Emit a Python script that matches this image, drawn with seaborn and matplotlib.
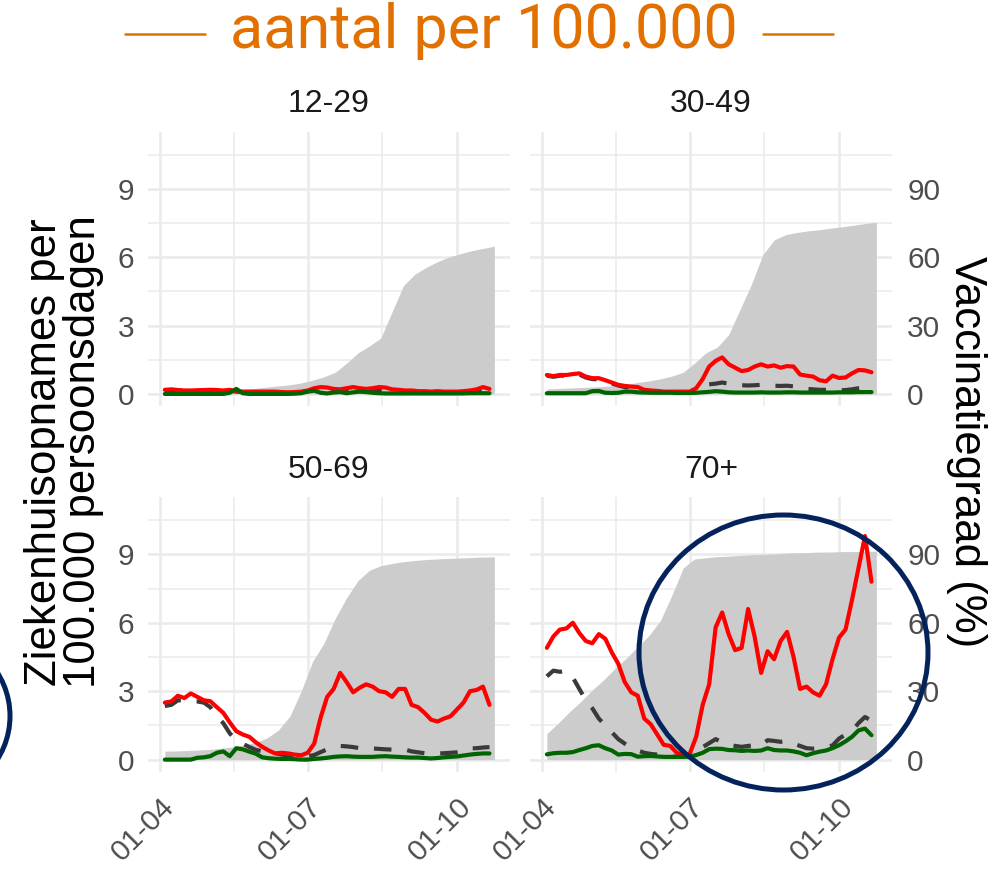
import numpy as np
import pandas as pd
import matplotlib
matplotlib.use("Agg")
import matplotlib.pyplot as plt
import matplotlib.dates as mdates
from matplotlib.patches import Ellipse
from matplotlib.lines import Line2D
import seaborn as sns

# leeftijdsgroepen en datums
groups = ["12-29", "30-49", "50-69", "70+"]
line_dates = pd.date_range("2021-04-04", periods=51, freq="4D")
vacc_dates = pd.date_range("2021-04-04", periods=30, freq="7D")

# ziekenhuisopnames per 100.000 persoonsdagen (rood = ongevaccineerd, grijs gestippeld = totaal, groen = gevaccineerd)
red_1229 = [0.18, 0.2, 0.17, 0.15, 0.15, 0.16, 0.17, 0.18, 0.17, 0.15,
            0.18, 0.12, 0.1, 0.1, 0.1, 0.1, 0.1, 0.1, 0.08, 0.07,
            0.08, 0.1, 0.15, 0.25, 0.3, 0.28, 0.22, 0.2, 0.25, 0.3,
            0.25, 0.22, 0.25, 0.3, 0.28, 0.2, 0.18, 0.15, 0.15, 0.12,
            0.12, 0.1, 0.12, 0.1, 0.1, 0.1, 0.12, 0.15, 0.2, 0.3, 0.22]
tot_1229 = [0.15, 0.17, 0.15, 0.13, 0.13, 0.14, 0.15, 0.15, 0.14, 0.13,
            0.15, 0.1, 0.08, 0.08, 0.08, 0.08, 0.08, 0.08, 0.07, 0.06,
            0.07, 0.08, 0.12, 0.18, 0.2, 0.18, 0.15, 0.14, 0.16, 0.18,
            0.15, 0.14, 0.15, 0.17, 0.16, 0.12, 0.11, 0.1, 0.1, 0.08,
            0.08, 0.07, 0.08, 0.07, 0.07, 0.07, 0.08, 0.1, 0.13, 0.18, 0.14]
green_1229 = [0, 0, 0, 0, 0, 0, 0, 0, 0, 0,
              0.05, 0.22, 0.03, 0, 0, 0, 0, 0, 0, 0,
              0.01, 0.03, 0.1, 0.14, 0.05, 0.02, 0.06, 0.08, 0.03, 0.07,
              0.1, 0.08, 0.05, 0.03, 0.02, 0.02, 0.02, 0.02, 0.02, 0.02,
              0.02, 0.02, 0.02, 0.02, 0.02, 0.02, 0.02, 0.03, 0.03, 0.03, 0.03]

red_3049 = [0.83, 0.78, 0.83, 0.83, 0.87, 0.9, 0.76, 0.69, 0.69, 0.6,
            0.5, 0.4, 0.35, 0.32, 0.3, 0.18, 0.15, 0.13, 0.1, 0.1,
            0.1, 0.1, 0.1, 0.25, 0.65, 1.2, 1.45, 1.6, 1.3, 1.15,
            1.0, 1.05, 1.2, 1.3, 1.2, 1.25, 1.15, 1.22, 1.2, 0.85,
            0.8, 0.76, 0.6, 0.55, 0.8, 0.7, 0.72, 0.9, 1.05, 1.03, 0.95]
tot_3049 = [0.8, 0.75, 0.8, 0.8, 0.83, 0.85, 0.72, 0.65, 0.64, 0.55,
            0.46, 0.37, 0.3, 0.28, 0.25, 0.15, 0.12, 0.1, 0.08, 0.08,
            0.07, 0.07, 0.08, 0.15, 0.3, 0.42, 0.45, 0.5, 0.45, 0.4,
            0.38, 0.37, 0.38, 0.4, 0.38, 0.36, 0.35, 0.36, 0.33, 0.28,
            0.22, 0.2, 0.18, 0.18, 0.17, 0.16, 0.17, 0.2, 0.25, 0.3, 0.38]
green_3049 = [0.03, 0.03, 0.03, 0.03, 0.03, 0.03, 0.03, 0.12, 0.13, 0.05,
              0.04, 0.05, 0.1, 0.1, 0.07, 0.06, 0.05, 0.05, 0.05, 0.05,
              0.04, 0.04, 0.04, 0.05, 0.07, 0.09, 0.12, 0.1, 0.07, 0.06,
              0.06, 0.06, 0.06, 0.07, 0.06, 0.06, 0.06, 0.07, 0.07, 0.06,
              0.06, 0.06, 0.06, 0.06, 0.06, 0.07, 0.07, 0.07, 0.08, 0.08, 0.08]

red_5069 = [2.5, 2.55, 2.8, 2.7, 2.9, 2.75, 2.6, 2.56, 2.3, 2.05,
            1.63, 1.25, 1.1, 1.0, 0.76, 0.56, 0.4, 0.27, 0.3, 0.27,
            0.22, 0.19, 0.3, 0.7, 1.85, 2.75, 3.1, 3.8, 3.4, 2.95,
            3.15, 3.3, 3.2, 3.0, 2.95, 2.75, 3.1, 3.1, 2.4, 2.3,
            2.05, 1.75, 1.67, 1.8, 1.9, 2.2, 2.5, 3.0, 3.05, 3.2, 2.4]
tot_5069 = [2.35, 2.4, 2.6, 2.6, 2.55, 2.55, 2.5, 2.3, 1.9, 1.6,
            1.15, 0.86, 0.7, 0.55, 0.43, 0.36, 0.32, 0.28, 0.22, 0.18,
            0.13, 0.12, 0.15, 0.2, 0.33, 0.45, 0.55, 0.6, 0.58, 0.55,
            0.5, 0.49, 0.49, 0.47, 0.45, 0.44, 0.44, 0.44, 0.36, 0.32,
            0.28, 0.27, 0.27, 0.28, 0.3, 0.32, 0.35, 0.49, 0.5, 0.53, 0.55]
green_5069 = [0, 0, 0, 0, 0, 0.08, 0.1, 0.15, 0.3, 0.36,
              0.15, 0.5, 0.45, 0.35, 0.26, 0.1, 0.06, 0.04, 0.03, 0.03,
              0.02, 0, 0, 0.03, 0.05, 0.08, 0.12, 0.14, 0.15, 0.13,
              0.12, 0.12, 0.12, 0.14, 0.15, 0.13, 0.12, 0.1, 0.09, 0.09,
              0.07, 0.05, 0.07, 0.1, 0.12, 0.14, 0.18, 0.22, 0.25, 0.27, 0.27]

red_70 = [4.9, 5.4, 5.7, 5.75, 6.0, 5.55, 5.2, 5.1, 5.5, 5.3,
          4.7, 4.2, 3.4, 2.95, 2.8, 1.8, 1.55, 1.1, 0.65, 0.6,
          0.3, 0.19, 0.25, 1.0, 2.4, 3.3, 5.8, 6.45, 5.5, 4.8,
          4.9, 6.6, 5.4, 3.8, 4.75, 4.4, 5.2, 5.6, 4.5, 3.1,
          3.2, 2.95, 2.8, 3.3, 4.4, 5.35, 5.7, 7.0, 8.4, 9.8, 7.8]
tot_70 = [3.65, 3.9, 3.85, 3.9, 3.6, 3.1, 2.6, 2.25, 1.8, 1.5,
          1.2, 0.9, 0.7, 0.52, 0.4, 0.3, 0.25, 0.22, 0.19, 0.15,
          0.12, 0.15, 0.2, 0.34, 0.55, 0.72, 0.9, 0.75, 0.65, 0.6,
          0.56, 0.6, 0.63, 0.63, 0.85, 0.82, 0.78, 0.82, 0.7, 0.6,
          0.5, 0.48, 0.5, 0.56, 0.62, 0.92, 1.1, 1.25, 1.6, 1.87, 1.7]
green_70 = [0.23, 0.28, 0.3, 0.3, 0.33, 0.42, 0.5, 0.6, 0.63, 0.5,
            0.4, 0.22, 0.25, 0.24, 0.13, 0.15, 0.16, 0.14, 0.12, 0.12,
            0.12, 0.12, 0.13, 0.2, 0.3, 0.46, 0.48, 0.47, 0.42, 0.41,
            0.38, 0.4, 0.38, 0.4, 0.5, 0.42, 0.4, 0.4, 0.36, 0.3,
            0.19, 0.28, 0.35, 0.4, 0.5, 0.63, 0.8, 1.0, 1.28, 1.36, 1.07]

# vaccinatiegraad in %
vacc_1229 = [0.6, 0.7, 0.8, 0.9, 1.0, 1.2, 1.5, 2.0, 2.5, 3.0,
             3.5, 4.0, 4.8, 6.0, 7.5, 9.5, 13.5, 18, 21, 24.5,
             36, 47.5, 52.5, 55.5, 58, 60, 61.5, 62.8, 63.8, 64.8]
vacc_3049 = [2.2, 2.4, 2.6, 2.8, 3.0, 3.3, 3.7, 4.2, 5.0, 5.7,
             6.6, 7.8, 9.5, 13.5, 18, 20.5, 26, 37, 48, 61,
             67.5, 69.8, 70.8, 71.5, 72, 72.7, 73.3, 74, 74.7, 75.3]
vacc_5069 = [3.7, 3.8, 4.0, 4.2, 4.5, 5.0, 5.6, 6.5, 7.5, 9.5,
             13, 19, 30, 43, 51, 62, 71, 78.5, 83, 85,
             86, 86.8, 87.3, 87.7, 88, 88.2, 88.4, 88.6, 88.8, 88.9]
vacc_70 = [11.4, 16, 21, 25.5, 30.5, 35, 40, 44.5, 49.5, 54.5,
           61, 72, 84, 88, 88.5, 89, 89.2, 89.5, 89.8, 90,
           90.2, 90.5, 90.7, 90.8, 91, 91, 91.2, 91.2, 91.3, 91.4]

y_ticks = [0, 3, 6, 9]
vacc_ticks = [0, 30, 60, 90]
x_ticks = pd.to_datetime(["2021-04-01", "2021-07-01", "2021-10-01"])
x_minor = [pd.Timestamp("2021-05-16 12:00"), pd.Timestamp("2021-08-16")]

panels = {
    "12-29": (red_1229, tot_1229, green_1229, vacc_1229),
    "30-49": (red_3049, tot_3049, green_3049, vacc_3049),
    "50-69": (red_5069, tot_5069, green_5069, vacc_5069),
    "70+": (red_70, tot_70, green_70, vacc_70),
}

sns.set_theme(style="white")
plt.rcParams["font.family"] = ["Liberation Sans", "DejaVu Sans"]

W, H = 998, 872
fig = plt.figure(figsize=(W / 100, H / 100), dpi=100)


def px_box(x0, y0, x1, y1):
    return [x0 / W, 1 - y1 / H, (x1 - x0) / W, (y1 - y0) / H]


boxes = [px_box(148, 131.7, 510, 406), px_box(530, 131.7, 892, 406),
         px_box(148, 497.3, 510, 771.7), px_box(530, 497.3, 892, 771.7)]

grid_col = "#EBEBEB"
tick_col = "#4D4D4D"
tick_fs = 21.5

for i, g in enumerate(groups):
    red, tot, green, vacc = panels[g]
    ax = fig.add_axes(boxes[i])
    ax.fill_between(vacc_dates, 0, np.array(vacc) / 10, color="#CCCCCC", lw=0, zorder=1)
    sns.lineplot(x=line_dates, y=tot, ax=ax, color="#3A3A3A", lw=3.0, zorder=2)
    ax.lines[-1].set_dashes([4.2, 3.8])
    sns.lineplot(x=line_dates, y=red, ax=ax, color="#FF0000", lw=3.0, zorder=3)
    sns.lineplot(x=line_dates, y=green, ax=ax, color="#006400", lw=3.0, zorder=4)

    ax.set_xlim(pd.Timestamp("2021-03-24 14:40"), pd.Timestamp("2021-11-02 15:30"))
    ax.set_ylim(-0.53, 11.5)
    ax.set_xticks(x_ticks)
    ax.set_xticks(x_minor, minor=True)
    ax.set_yticks(y_ticks)
    ax.set_yticks([1.5, 4.5, 7.5, 10.5], minor=True)
    ax.xaxis.set_major_formatter(mdates.DateFormatter("%d-%m"))
    ax.grid(which="major", color=grid_col, lw=1.9)
    ax.grid(which="minor", color=grid_col, lw=1.1)
    ax.set_axisbelow(True)
    for s in ax.spines.values():
        s.set_visible(False)
    ax.set_xlabel("")
    ax.set_ylabel("")
    ax.tick_params(which="both", length=0, labelsize=tick_fs, colors=tick_col)
    ax.tick_params(axis="y", pad=10)
    ax.tick_params(axis="x", pad=15)
    ax.set_title(g, fontsize=23, color="#1A1A1A", pad=14)

    if i < 2:
        ax.tick_params(axis="x", labelbottom=False)
    else:
        for lbl in ax.get_xticklabels():
            lbl.set_rotation(45)
            lbl.set_ha("right")
            lbl.set_va("top")
            lbl.set_rotation_mode("anchor")
    if i % 2 == 1:
        ax.tick_params(axis="y", labelleft=False)
        sec = ax.secondary_yaxis("right", functions=(lambda v: v * 10, lambda v: v / 10))
        sec.set_yticks(vacc_ticks)
        sec.tick_params(length=0, labelsize=tick_fs, colors=tick_col, pad=11)
        for s in sec.spines.values():
            s.set_visible(False)

orange = "#E17000"
fig.text(484 / W, 1 - 31 / H, "aantal per 100.000", color=orange, fontsize=44,
         family=["Roboto", "DejaVu Sans"], ha="center", va="center")
for x0, x1 in [(125, 205), (763, 833)]:
    fig.add_artist(Line2D([x0 / W, x1 / W], [1 - 34 / H, 1 - 34 / H], color=orange, lw=1.8,
                          transform=fig.transFigure))
fig.text(64 / W, 1 - 452 / H, "Ziekenhuisopnames per\n100.000 persoonsdagen", rotation=90,
         fontsize=31.5, ha="center", va="center", linespacing=0.95, color="black")
fig.text(966 / W, 1 - 452 / H, "Vaccinatiegraad (%)", rotation=270,
         fontsize=31.5, ha="center", va="center", color="black")

navy = "#04225C"
fig.add_artist(Ellipse((783.5 / W, 1 - 652.5 / H), 289 / W, 275 / H, transform=fig.transFigure,
                       fill=False, ec=navy, lw=3.6, clip_on=False, zorder=10))
fig.add_artist(Ellipse((-71 / W, 1 - 716 / H), 162 / W, 162 / H, transform=fig.transFigure,
                       fill=False, ec=navy, lw=3.6, clip_on=False, zorder=10))

fig.savefig("out.png", dpi=100)
